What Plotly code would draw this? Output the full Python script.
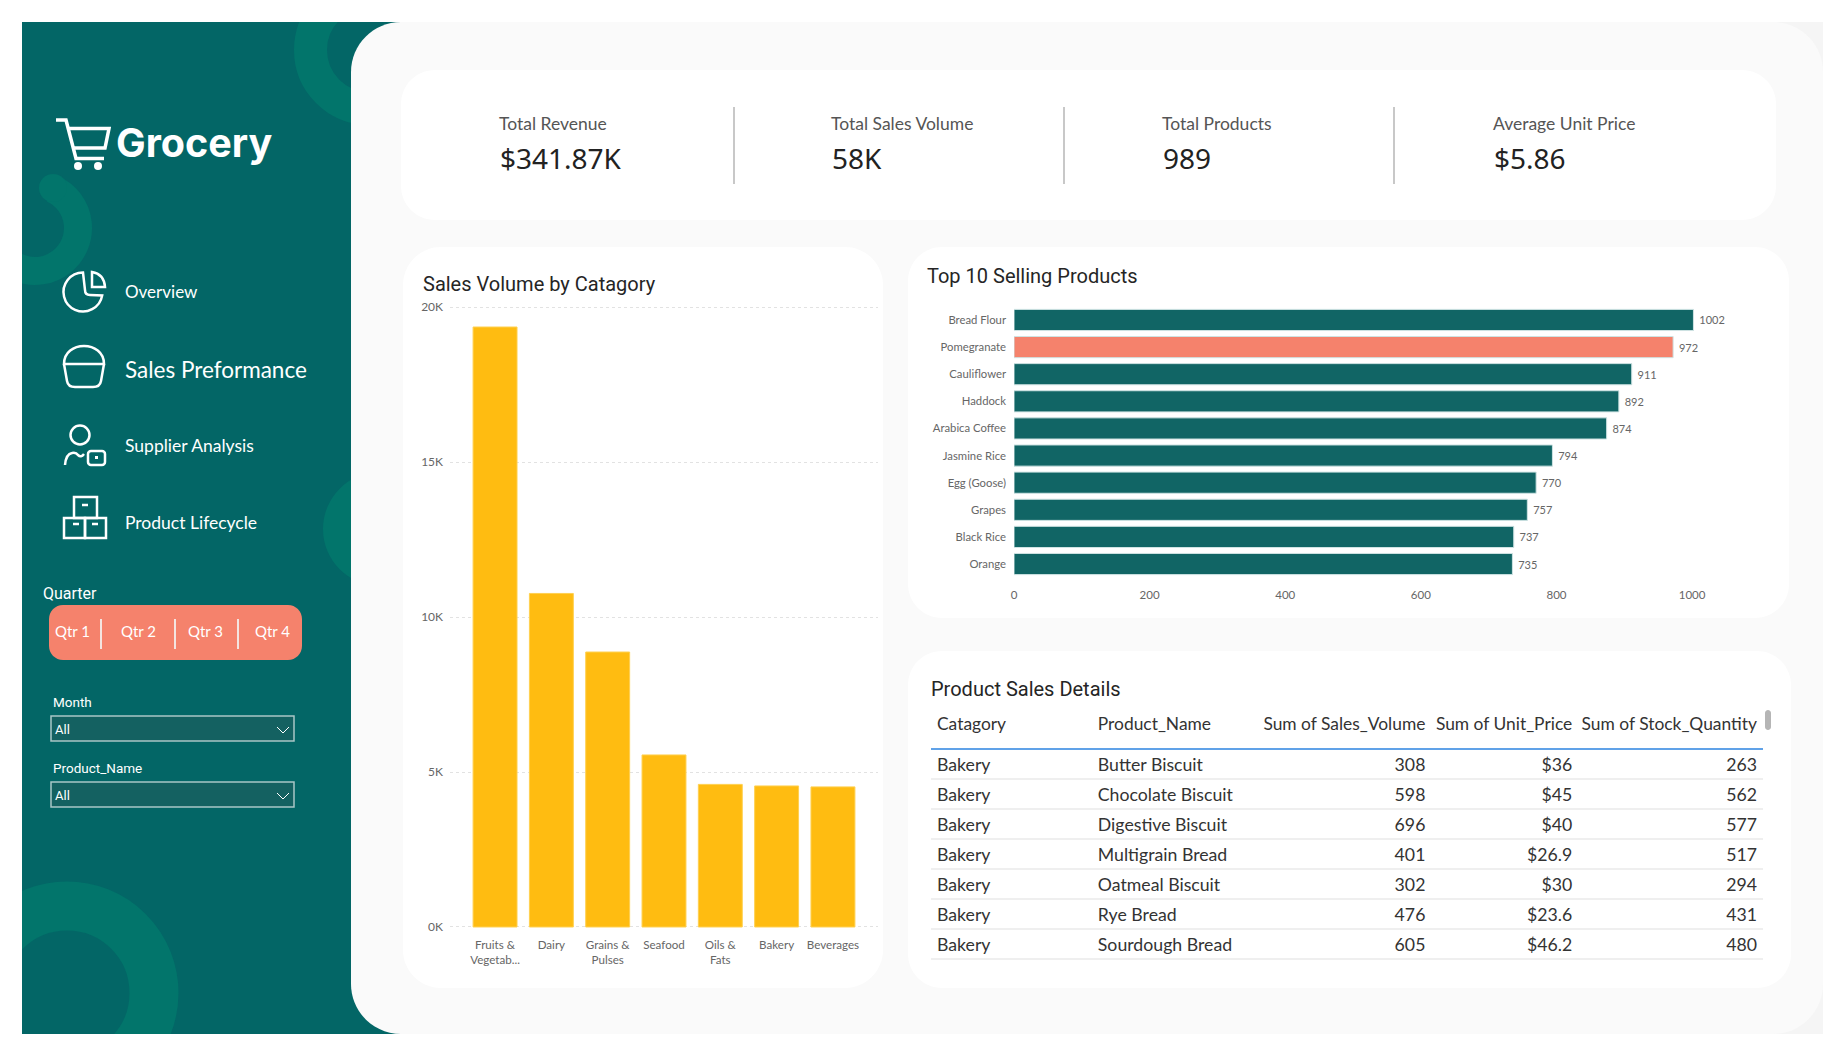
import math
import plotly.graph_objects as go

# data
categories = ["Fruits &<br>Vegetab...", "Dairy", "Grains &<br>Pulses", "Seafood", "Oils &<br>Fats", "Bakery", "Beverages"]
cat_volume = [19355, 10760, 8870, 5550, 4600, 4550, 4520]
y_ticks = [0, 5000, 10000, 15000, 20000]
y_labels = ["0K", "5K", "10K", "15K", "20K"]

products = ["Bread Flour", "Pomegranate", "Cauliflower", "Haddock", "Arabica Coffee",
            "Jasmine Rice", "Egg (Goose)", "Grapes", "Black Rice", "Orange"]
prod_volume = [1002, 972, 911, 892, 874, 794, 770, 757, 737, 735]
prod_ticks = [0, 200, 400, 600, 800, 1000]

kpi_names = ["Total Revenue", "Total Sales Volume", "Total Products", "Average Unit Price"]
kpi_values = ["$341.87K", "58K", "989", "$5.86"]
quarters = ["Qtr 1", "Qtr 2", "Qtr 3", "Qtr 4"]

tbl_header = ["Catagory", "Product_Name", "Sum of Sales_Volume", "Sum of Unit_Price", "Sum of Stock_Quantity"]
tbl_cat = ["Bakery"] * 7
tbl_name = ["Butter Biscuit", "Chocolate Biscuit", "Digestive Biscuit", "Multigrain Bread",
            "Oatmeal Biscuit", "Rye Bread", "Sourdough Bread"]
tbl_sales = [308, 598, 696, 401, 302, 476, 605]
tbl_price = ["$36", "$45", "$40", "$26.9", "$30", "$23.6", "$46.2"]
tbl_stock = [263, 562, 577, 517, 294, 431, 480]

W, H = 1845, 1058
TEAL = "#036666"
RING = "#02756b"
CORAL = "#f5826c"
BODY = "Lato"
HEAD = "Roboto"
CLEAR = "rgba(0,0,0,0)"

shapes = []
notes = []


def rrect(x0, y0, x1, y1, r):
    # plotly shape paths have no A command, so corners are beziers
    c = r * 0.448
    return (f"M {x0+r} {y0} L {x1-r} {y0} C {x1-c} {y0} {x1} {y0+c} {x1} {y0+r} L {x1} {y1-r} "
            f"C {x1} {y1-c} {x1-c} {y1} {x1-r} {y1} L {x0+r} {y1} C {x0+c} {y1} {x0} {y1-c} {x0} {y1-r} "
            f"L {x0} {y0+r} C {x0} {y0+c} {x0+c} {y0} {x0+r} {y0} Z")


def arc(cx, cy, r, a0, a1):
    # circular arc as beziers, angles in degrees, y pointing down
    n = max(1, math.ceil(abs(a1 - a0) / 60))
    step = math.radians(a1 - a0) / n
    k = 4 / 3 * math.tan(step / 4)
    a = math.radians(a0)
    d = f"M {cx + r*math.cos(a):.2f} {cy + r*math.sin(a):.2f}"
    for i in range(n):
        b = a + step
        d += (f" C {cx + r*(math.cos(a) - k*math.sin(a)):.2f} {cy + r*(math.sin(a) + k*math.cos(a)):.2f}"
              f" {cx + r*(math.cos(b) + k*math.sin(b)):.2f} {cy + r*(math.sin(b) - k*math.cos(b)):.2f}"
              f" {cx + r*math.cos(b):.2f} {cy + r*math.sin(b):.2f}")
        a = b
    return d


def path(d, fill=CLEAR, line=CLEAR, width=0):
    shapes.append(dict(type="path", path=d, xref="x", yref="y", layer="below",
                       fillcolor=fill, line=dict(color=line, width=width)))


def rect(x0, y0, x1, y1, fill, line=CLEAR, width=0):
    shapes.append(dict(type="rect", x0=x0, y0=y0, x1=x1, y1=y1, xref="x", yref="y", layer="below",
                       fillcolor=fill, line=dict(color=line, width=width)))


def circle(cx, cy, r, fill=CLEAR, line=CLEAR, width=0):
    shapes.append(dict(type="circle", x0=cx-r, y0=cy-r, x1=cx+r, y1=cy+r, xref="x", yref="y", layer="below",
                       fillcolor=fill, line=dict(color=line, width=width)))


def seg(x0, y0, x1, y1, color, width):
    shapes.append(dict(type="line", x0=x0, y0=y0, x1=x1, y1=y1, xref="x", yref="y", layer="below",
                       line=dict(color=color, width=width)))


def label(x, y, text, size, color, font=BODY, anchor="left", bold=False):
    if bold:
        text = "<b>" + text + "</b>"
    notes.append(dict(x=x, y=y, xref="x", yref="y", text=text, showarrow=False, xanchor=anchor, yanchor="middle",
                      font=dict(family=font, size=size, color=color), borderpad=0, borderwidth=0))


# sidebar and its rings
rect(22, 22, 420, 1034, TEAL)
circle(369, 50, 58.5, line=RING, width=33)
path(arc(35, 228, 43, -66, 170), line=RING, width=28)
circle(53, 188, 14, fill=RING)
circle(380, 529, 57, fill=RING)
circle(67, 993, 87, line=RING, width=49)
rect(0, 0, 22, H, "white")
rect(0, 0, W, 22, "white")
rect(0, 1034, W, H, "white")

# main panel and cards
rect(1700, 22, 1823, 1034, "#f5f5f5")
path(rrect(351, 22, 1823, 1034, 50), fill="#fafafa")
path(rrect(401, 70, 1776, 220, 34), fill="white")
path(rrect(403, 247, 883, 988, 38), fill="white")
path(rrect(908, 247, 1789, 618, 34), fill="white")
path(rrect(908, 651, 1791, 988, 34), fill="white")

# cart logo
path("M 56 120 L 66 120 L 76 158.5 L 104 158.5", line="white", width=3.5)
path("M 69 128.5 L 109 128.5 L 105 148 L 73 148", line="white", width=3.5)
circle(78, 166, 4, fill="white")
circle(98, 166, 4, fill="white")
label(116, 143, "Grocery", 39.5, "white", font="Inter", bold=True)

# nav icons
path(arc(83, 292, 19.5, -90, -350) + " L 90 295 Q 85 295 85 290 Z", line="white", width=2.5)
path("M 92 272 Q 104 274 105 287 L 92 287 Z", line="white", width=2.5)
path("M 64 364 C 64 340 104 340 104 364 Z", line="white", width=2.5)
path("M 64 364 L 67 381 Q 68 387 75 387 L 93 387 Q 100 387 101 381 L 104 364", line="white", width=2.5)
circle(80, 435, 9.5, line="white", width=2.5)
path("M 65 465 Q 66 454 72 453 Q 76 452 78 455 Q 81 458 84 454", line="white", width=2.5)
path(rrect(88, 451, 105, 465, 3), line="white", width=2.5)
rect(95, 456, 98, 459, "white")
rect(74, 497, 97, 518, CLEAR, line="white", width=2.5)
rect(64, 518, 85, 538, CLEAR, line="white", width=2.5)
rect(85, 518, 106, 538, CLEAR, line="white", width=2.5)
seg(82, 505, 88, 505, "white", 2.5)
seg(73, 524, 79, 524, "white", 2.5)
seg(92, 524, 98, 524, "white", 2.5)

label(125, 291, "Overview", 17, "white")
label(125, 369, "Sales Preformance", 22.5, "white")
label(125, 445, "Supplier Analysis", 17.5, "white")
label(125, 522, "Product Lifecycle", 17.5, "white")

# slicers
label(43, 593, "Quarter", 16, "white", font=HEAD)
path(rrect(49, 605, 302, 660, 14), fill=CORAL)
for qx, q in zip([72, 138, 205, 272], quarters):
    label(qx, 631, q, 15, "white", anchor="center")
for dx in [101, 175, 238]:
    seg(dx, 619, dx, 649, "#f4e4e0", 2)

label(53, 702, "Month", 13.5, "white", font=HEAD)
rect(51, 716, 294, 741, "#146161", line="#a9c6c6", width=1.5)
label(55, 729, "All", 13, "white", font=HEAD)
path("M 277 727 L 283 733 L 289 727", line="white", width=1)
label(53, 768, "Product_Name", 13.5, "white", font=HEAD)
rect(51, 782, 294, 807, "#146161", line="#a9c6c6", width=1.5)
label(55, 795, "All", 13, "white", font=HEAD)
path("M 277 793 L 283 799 L 289 793", line="white", width=1)

# KPI row
for kx, name, val in zip([499, 831, 1162, 1493], kpi_names, kpi_values):
    label(kx, 123, name, 17.5, "#555555")
    label(kx + 1, 158, val, 28, "#222222", font="Noto Sans")
for dx in [734, 1064, 1394]:
    seg(dx, 107, dx, 184, "#c8c8c8", 2)

# card titles
label(423, 284, "Sales Volume by Catagory", 20, "#252525", font=HEAD)
label(927, 276, "Top 10 Selling Products", 20, "#252525", font=HEAD)
label(931, 689, "Product Sales Details", 20, "#252525", font=HEAD)

# table rules and scroll thumb
seg(931, 749, 1763, 749, "#2b83e0", 1.5)
for ry in [779, 809, 839, 869, 899, 929, 959]:
    seg(931, ry, 1763, ry, "#e0e0e0", 1.2)
path(rrect(1765, 710, 1771, 730, 3), fill="#b5b5b5")

fig = go.Figure()
# pixel canvas for the page furniture, first so its shapes stay under the charts
fig.add_trace(go.Scatter(x=[], y=[], xaxis="x", yaxis="y", hoverinfo="skip", showlegend=False))

fig.add_trace(go.Bar(x=list(range(len(categories))), y=cat_volume, xaxis="x2", yaxis="y2",
                     marker=dict(color="#ffbc11", line=dict(color="#ffd050", width=1)), width=0.78, showlegend=False))

bar_colors = [CORAL if p == "Pomegranate" else "#116565" for p in products]
fig.add_trace(go.Bar(x=prod_volume, y=products, orientation="h", xaxis="x3", yaxis="y3",
                     marker=dict(color=bar_colors, line=dict(color="#cfe3e3", width=1)),
                     text=["\u00a0" + str(v) for v in prod_volume], textposition="outside", cliponaxis=False,
                     textfont=dict(family=BODY, size=11, color="#666666"), showlegend=False))

fig.add_trace(go.Table(
    domain=dict(x=[929 / W, 1766 / W], y=[1 - 960 / H, 1 - 709 / H]),
    columnwidth=[161, 164, 180, 147, 185],
    header=dict(values=[h.replace(" ", "\u00a0") for h in tbl_header],
                align=["left", "left", "right", "right", "right"], height=41,
                fill_color=CLEAR, line_width=0,
                font=dict(family=BODY, size=17.4, color="#333333")),
    cells=dict(values=[tbl_cat, tbl_name, tbl_sales, tbl_price, tbl_stock],
               align=["left", "left", "right", "right", "right"], height=30,
               fill_color=CLEAR, line_width=0,
               font=dict(family=BODY, size=17.7, color="#333333"))))

fig.update_layout(
    template="none",
    width=W, height=H, margin=dict(l=0, r=0, t=0, b=0, pad=0), autosize=False,
    paper_bgcolor="white", plot_bgcolor=CLEAR, bargap=0.22,
    shapes=shapes, annotations=notes,
    xaxis=dict(domain=[0, 1], range=[0, W], visible=False, fixedrange=True),
    yaxis=dict(domain=[0, 1], range=[H, 0], visible=False, fixedrange=True),
    xaxis2=dict(domain=[450 / W, 878 / W], range=[-0.8, 6.8], anchor="y2", tickmode="array",
                tickvals=list(range(len(categories))), ticktext=categories, showgrid=False, zeroline=False,
                showline=False, tickangle=0, ticklabelstandoff=6,
                tickfont=dict(family=BODY, size=11.6, color="#666666")),
    # range runs past 0 and 20K so plotly keeps the end gridlines
    yaxis2=dict(domain=[1 - 930 / H, 1 - 304 / H], range=[-97, 20097], anchor="x2", tickmode="array",
                tickvals=y_ticks, ticktext=y_labels, showgrid=True, gridcolor="#e2e2e2", griddash="dot",
                gridwidth=1, zeroline=False, showline=False, ticklabelstandoff=6,
                tickfont=dict(family=BODY, size=12, color="#666666")),
    xaxis3=dict(domain=[1014 / W, 1726 / W], range=[0, 1050], anchor="y3", tickmode="array", tickvals=prod_ticks,
                showgrid=False, zeroline=False, showline=False, ticklabelstandoff=9,
                tickfont=dict(family=BODY, size=11.5, color="#666666")),
    yaxis3=dict(domain=[1 - 577.6 / H, 1 - 306.4 / H], autorange=False, range=[9.5, -0.5], anchor="x3",
                type="category", showgrid=False, zeroline=False, showline=False, ticklabelstandoff=7,
                tickfont=dict(family=BODY, size=11.3, color="#666666")),
)

fig.write_html("out.html", config=dict(displayModeBar=False),
               post_script="document.body.style.margin='0';document.body.style.overflow='hidden';")
